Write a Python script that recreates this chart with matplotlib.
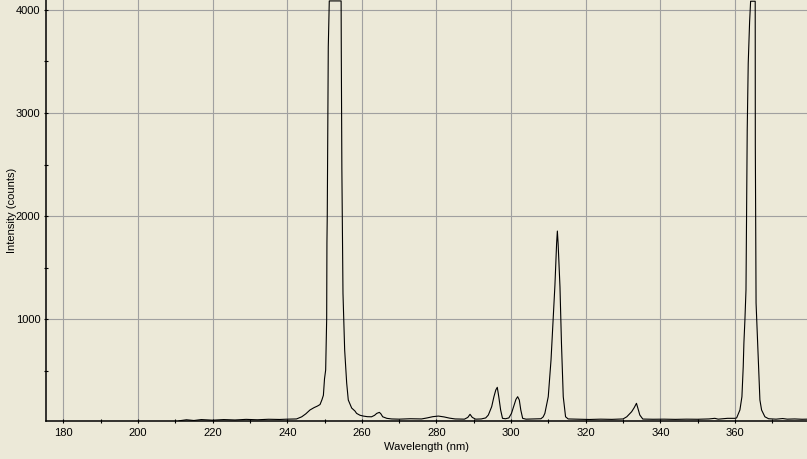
import matplotlib
matplotlib.use("Agg")
from matplotlib import pyplot as plt
from matplotlib.ticker import MultipleLocator

# spectrum: wavelength (nm) and intensity (counts)
wavelength = [
    211.0, 213.0, 215.0, 217.0, 220.0, 223.0, 226.0, 229.0, 232.0, 235.0, 238.0, 240.0, 242.5,
    # 253.7 line (saturated) with its left shoulder
    243.9, 245.0, 246.1, 247.2, 248.1, 248.8, 249.3, 249.7, 250.0, 250.31, 250.58, 250.65,
    250.74, 250.85, 251.01, 251.28, 254.45, 254.5, 254.65, 254.95, 255.4, 255.94, 256.37,
    257.28, 258.16, 258.6, 259.5, 260.4, 261.5, 262.6, 263.4, 264.0, 264.7, 265.1, 265.6,
    266.7, 268.0,
    # small lines 280 / 289
    270.0, 273.0, 276.0, 277.5, 279.0, 280.5, 282.0, 283.5, 285.0, 287.5, 288.4, 289.0,
    289.6, 290.5, 292.0,
    # 296.7 and 302 lines
    293.2, 293.9, 294.8, 295.4, 295.9, 296.3, 296.7, 297.2, 297.7, 298.5, 299.4, 300.1,
    300.8, 301.3, 301.76, 302.2, 302.6, 303.1, 304.0, 306.0, 308.0, 308.6,
    # 313 line
    309.05, 309.96, 310.7, 311.3, 311.75, 312.2, 312.4, 312.6, 313.1, 313.5, 313.98, 314.6,
    315.3, 318.0, 321.0, 324.0, 327.0, 330.0,
    # 334 line
    331.0, 332.3, 333.0, 333.6, 334.0, 334.5, 335.3, 338.0, 341.0, 344.0, 347.0, 350.0,
    353.0, 354.6, 355.5, 358.0, 360.0,
    # 365 line (saturated)
    360.44, 361.32, 361.86, 362.21, 362.39, 362.66, 362.95, 363.1, 363.28, 363.55, 363.92,
    364.19, 365.42, 365.45, 365.65, 365.96, 366.33, 366.68, 367.13, 368.02, 369.0, 371.0,
    372.8, 374.0, 376.0, 378.0, 379.3,
]
counts = [
    12, 22, 15, 24, 18, 24, 20, 26, 22, 27, 25, 28, 30,
    51, 80, 117, 140, 155, 170, 215, 260, 420, 505, 1000, 1740,
    2010, 2750, 3640, 4088, 4088, 3580, 2460, 1250, 700, 379, 214,
    136, 107, 84, 66, 58, 52, 51, 65, 84, 94, 80, 51,
    36, 30,
    28, 32, 30, 40, 52, 58, 50, 38, 30, 28, 45, 75,
    45, 28, 30,
    40, 68, 149, 246, 311, 337, 246, 117, 36, 32, 40, 84,
    165, 220, 246, 214, 117, 36, 28, 30, 32, 50,
    84, 246, 602, 1022, 1330, 1735, 1854, 1735, 1313, 764, 246, 51,
    30, 28, 25, 28, 26, 30,
    51, 100, 140, 182, 130, 68, 29, 27, 28, 26, 28, 27,
    30, 36, 28, 36, 36,
    40, 117, 246, 537, 767, 990, 1282, 2042, 2835, 3483, 3886,
    4085, 4085, 2689, 1155, 864, 505, 214, 117, 51, 32, 28,
    34, 28, 30, 27, 28,
]

bg = "#ece9d8"
plt.rcParams["font.family"] = ["Liberation Sans", "DejaVu Sans"]
plt.rcParams["font.size"] = 8

fig = plt.figure(figsize=(8.07, 4.59), dpi=100, facecolor=bg)
ax = fig.add_axes([45.5 / 807, 38.5 / 459, 761.5 / 807, 420.5 / 459])
ax.set_facecolor(bg)

ax.plot(wavelength, counts, color="black", lw=0.8)

ax.set_xlim(175.23, 379.3)
ax.set_ylim(15, 4097)
ax.xaxis.set_major_locator(MultipleLocator(20))
ax.xaxis.set_minor_locator(MultipleLocator(10))
ax.yaxis.set_major_locator(MultipleLocator(1000))
ax.yaxis.set_minor_locator(MultipleLocator(500))

ax.grid(which="major", color="#a0a0a0", lw=0.8)
ax.set_axisbelow(True)

for s in ["top", "right"]:
    ax.spines[s].set_visible(False)
for s in ["left", "bottom"]:
    ax.spines[s].set_linewidth(1.1)

ax.tick_params(which="both", direction="inout", length=3.2, width=0.8, colors="black", pad=2)
ax.tick_params(axis="x", which="major", pad=3.5)

ax.set_xlabel("Wavelength (nm)", labelpad=3.5)
ax.set_ylabel("Intensity (counts)", labelpad=-0.5)

fig.savefig("out.png", dpi=100, facecolor=bg)
